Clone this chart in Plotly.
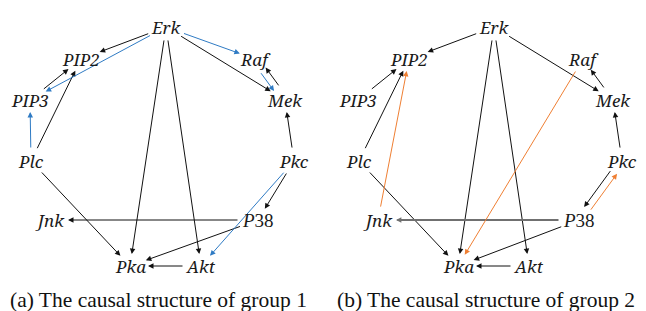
import math
import plotly.graph_objects as go

# ---- data ----
node_names = ["Erk", "PIP2", "Raf", "PIP3", "Mek", "Plc", "Pkc", "Jnk", "P38", "Pka", "Akt"]

black_edges_g1 = [("Erk", "PIP2"), ("Erk", "Mek"), ("Erk", "Pka"), ("Erk", "Akt"),
                  ("PIP3", "PIP2"), ("Plc", "PIP2"), ("Plc", "Pka"), ("Mek", "Raf"),
                  ("Pkc", "Mek"), ("Pkc", "P38"), ("P38", "Jnk"), ("P38", "Pka"), ("Akt", "Pka")]
blue_edges_g1 = [("Erk", "Raf"), ("Erk", "PIP3"), ("Raf", "Mek"), ("Plc", "PIP3"), ("Pkc", "Akt")]

black_edges_g2 = [("Erk", "PIP2"), ("Erk", "Mek"), ("Erk", "Pka"), ("Erk", "Akt"),
                  ("PIP3", "PIP2"), ("Plc", "PIP2"), ("Plc", "Pka"), ("Mek", "Raf"),
                  ("Pkc", "Mek"), ("Pkc", "P38"), ("P38", "Pka"), ("Akt", "Pka")]
grey_edges_g2 = [("P38", "Jnk")]
orange_edges_g2 = [("Jnk", "PIP2"), ("Raf", "Pka"), ("P38", "Pkc")]

captions = ["(a) The causal structure of group 1", "(b) The causal structure of group 2"]

# ---- layout (label centres, pixels) ----
pos1 = {"Erk": (166, 27), "PIP2": (81, 59), "Raf": (255, 59), "PIP3": (30, 100),
        "Mek": (285, 100), "Plc": (31, 161), "Pkc": (294, 161), "Jnk": (50, 220),
        "P38": (258, 220), "Pka": (130, 266), "Akt": (201, 266)}
pos2 = {k: (v[0] + 328, v[1]) for k, v in pos1.items()}
pos2["P38"] = (579, 220)

halfw = {"Erk": 17, "PIP2": 21, "Raf": 15, "PIP3": 20, "Mek": 19, "Plc": 15,
         "Pkc": 15, "Jnk": 16, "P38": 17, "Pka": 16, "Akt": 15}
HALF_H = 12

W, H = 646, 311
fig = go.Figure()
fig.add_trace(go.Scatter(x=[0, W], y=[0, H], mode="markers",
                         marker=dict(opacity=0), hoverinfo="skip", showlegend=False))

annotations = []


def clip(node, cx, cy, dx, dy):
    a = halfw[node] + 2
    b = HALF_H
    L = math.hypot(dx, dy)
    ux, uy = dx / L, dy / L
    r = 1 / math.sqrt((ux / a) ** 2 + (uy / b) ** 2)
    return cx + ux * r, cy + uy * r


def add_edges(edges, pos, all_edges, color, width=1):
    edge_set = set(all_edges)
    for s, t in edges:
        x0, y0 = pos[s]
        x1, y1 = pos[t]
        dx, dy = x1 - x0, y1 - y0
        sx, sy = clip(s, x0, y0, dx, dy)
        tx, ty = clip(t, x1, y1, -dx, -dy)
        if (t, s) in edge_set:
            L = math.hypot(dx, dy)
            px, py = -dy / L * 3.5, dx / L * 3.5
            sx, sy, tx, ty = sx + px, sy + py, tx + px, ty + py
        annotations.append(dict(x=tx, y=ty, ax=sx, ay=sy, xref="x", yref="y",
                                axref="x", ayref="y", text="", showarrow=True,
                                arrowhead=2, arrowsize=1.1 if width == 1 else 0.6,
                                arrowwidth=width, arrowcolor=color, standoff=0))


all1 = black_edges_g1 + blue_edges_g1
add_edges(black_edges_g1, pos1, all1, "#111111")
add_edges(blue_edges_g1, pos1, all1, "#2f7bc4")
all2 = black_edges_g2 + grey_edges_g2 + orange_edges_g2
add_edges(black_edges_g2, pos2, all2, "#111111")
add_edges(grey_edges_g2, pos2, all2, "#707070", width=1.8)
add_edges(orange_edges_g2, pos2, all2, "#ef7f33")


def label_html(n):
    if n == "P38":
        return "<i>P</i>38"
    return "<i>%s</i>" % n


for pos in (pos1, pos2):
    for n in node_names:
        x, y = pos[n]
        fam = "Liberation Serif" if n == "P38" else "Noto Serif"
        annotations.append(dict(x=x, y=y, xref="x", yref="y", text=label_html(n),
                                showarrow=False, xanchor="center", yanchor="middle",
                                font=dict(family=fam, size=17 if n != "P38" else 19,
                                          color="#1a1a1a")))

for cap, cx in zip(captions, (158, 486)):
    annotations.append(dict(x=cx, y=300, xref="x", yref="y", text=cap, showarrow=False,
                            xanchor="center", yanchor="middle",
                            font=dict(family="Liberation Serif", size=21.5, color="#111111")))

fig.update_layout(
    width=W, height=H, margin=dict(l=0, r=0, t=0, b=0),
    paper_bgcolor="white", plot_bgcolor="white",
    xaxis=dict(range=[0, W], visible=False, fixedrange=True),
    yaxis=dict(range=[H, 0], visible=False, fixedrange=True),
    annotations=annotations, showlegend=False,
)
fig.write_html("out.html", config={"displayModeBar": False},
               post_script="document.body.style.margin='0';")
